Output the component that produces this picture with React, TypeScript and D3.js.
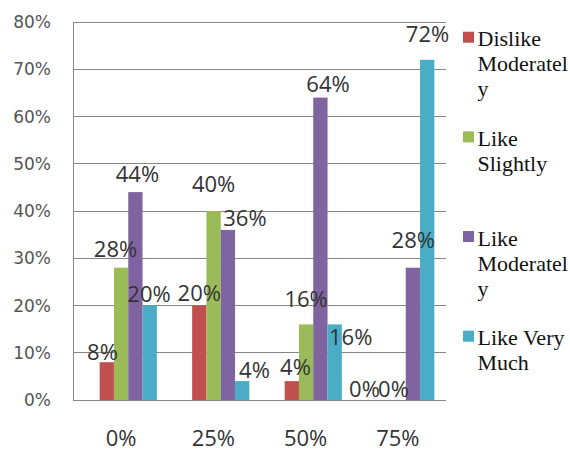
import React from "react";
import * as d3 from "d3";

const categories = ["0%", "25%", "50%", "75%"];
const seriesNames = ["Dislike Moderately", "Like Slightly", "Like Moderately", "Like Very Much"];
const legendLines = [["Dislike", "Moderatel", "y"], ["Like", "Slightly"], ["Like", "Moderatel", "y"], ["Like Very", "Much"]];
const dislikeModerately = [8, 20, 4, 0];
const likeSlightly = [28, 40, 16, 0];
const likeModerately = [44, 36, 64, 28];
const likeVeryMuch = [20, 4, 16, 72];
const seriesValues = [dislikeModerately, likeSlightly, likeModerately, likeVeryMuch];
const yTicks = [0, 10, 20, 30, 40, 50, 60, 70, 80];
const colors = ["#C0504D", "#9BBB59", "#8064A2", "#4BACC6"];

// label nudges [dx, dy] per series per category (as placed in the original)
const labelNudge = [
  [[-4.3, -2], [0, -4.8], [3.7, -6], [-19.8, -3.3]],
  [[-5.6, -11], [0, -19.3], [0, -17.7], [-5.1, -3.3]],
  [[2, -10.4], [17, -4], [7.6, -6], [0.4, -19.7]],
  [[-0.7, -3.8], [12.3, -2.8], [16, 20.6], [0.3, -18]],
];

export default function App() {
  const W = 570, H = 451;
  const left = 73, right = 446, top = 22, bottom = 400;
  const y = d3.scaleLinear().domain([0, 80]).range([bottom, top]);
  const xLabel = d3.scaleBand().domain(categories).range([75, 444]);
  const xGroup = d3.scaleBand().domain(categories).range([82, 452]);
  const barW = 14.3;
  const xBar = d3.scaleBand().domain(seriesNames).range([0, barW * 4]);
  const legendY = d3.scaleLinear().domain([0, 3]).range([31.7, 330.7]);
  const dataFont = '"Open Sans", sans-serif';
  const serifFont = '"Liberation Serif", serif';

  return (
    <svg width={W} height={H} style={{ position: "absolute", left: 0, top: 0, background: "#fff" }}>
      <rect x={0} y={0} width={W} height={H} fill="#fff" />
      {yTicks.map((t) => (
        <line key={"g" + t} x1={left} x2={right} y1={y(t)} y2={y(t)} stroke="#868686" strokeWidth={1} shapeRendering="crispEdges" />
      ))}
      <line x1={left} x2={left} y1={top} y2={bottom} stroke="#868686" strokeWidth={1} shapeRendering="crispEdges" />
      {yTicks.map((t) => (
        <text key={"t" + t} x={51} y={y(t)} dy="0.36em" textAnchor="end" style={{ fontFamily: '"DejaVu Sans", sans-serif', fontSize: 17 }} fill="#555">
          {t + "%"}
        </text>
      ))}
      {seriesValues.map((vals, si) =>
        vals.map((v, ci) => {
          const x0 = (xGroup(categories[ci]) as number) + xGroup.bandwidth() / 2 - barW * 2 + (xBar(seriesNames[si]) as number);
          return <rect key={"b" + si + "-" + ci} x={x0} y={y(v)} width={barW} height={bottom - y(v)} fill={colors[si]} />;
        })
      )}
      {seriesValues.map((vals, si) =>
        vals.map((v, ci) => {
          const cx = (xGroup(categories[ci]) as number) + xGroup.bandwidth() / 2 - barW * 2 + (xBar(seriesNames[si]) as number) + barW / 2;
          const [dx, dy] = labelNudge[si][ci];
          return (
            <text key={"l" + si + "-" + ci} x={cx + dx} y={y(v) + dy} textAnchor="middle" style={{ fontFamily: dataFont, fontSize: 22 }} fill="#333">
              {v + "%"}
            </text>
          );
        })
      )}
      {categories.map((c) => (
        <text key={"c" + c} x={(xLabel(c) as number) + xLabel.bandwidth() / 2} y={446} textAnchor="middle" style={{ fontFamily: dataFont, fontSize: 22 }} fill="#333">
          {c}
        </text>
      ))}
      {legendLines.map((lines, i) => (
        <g key={"lg" + i}>
          <rect x={463} y={legendY(i)} width={11} height={11} fill={colors[i]} />
          <text style={{ fontFamily: serifFont, fontSize: 22 }} fill="#111">
            {lines.map((ln, k) => (
              <tspan key={k} x={477.5} y={legendY(i) + 14.5 + k * 25}>{ln}</tspan>
            ))}
          </text>
        </g>
      ))}
    </svg>
  );
}
